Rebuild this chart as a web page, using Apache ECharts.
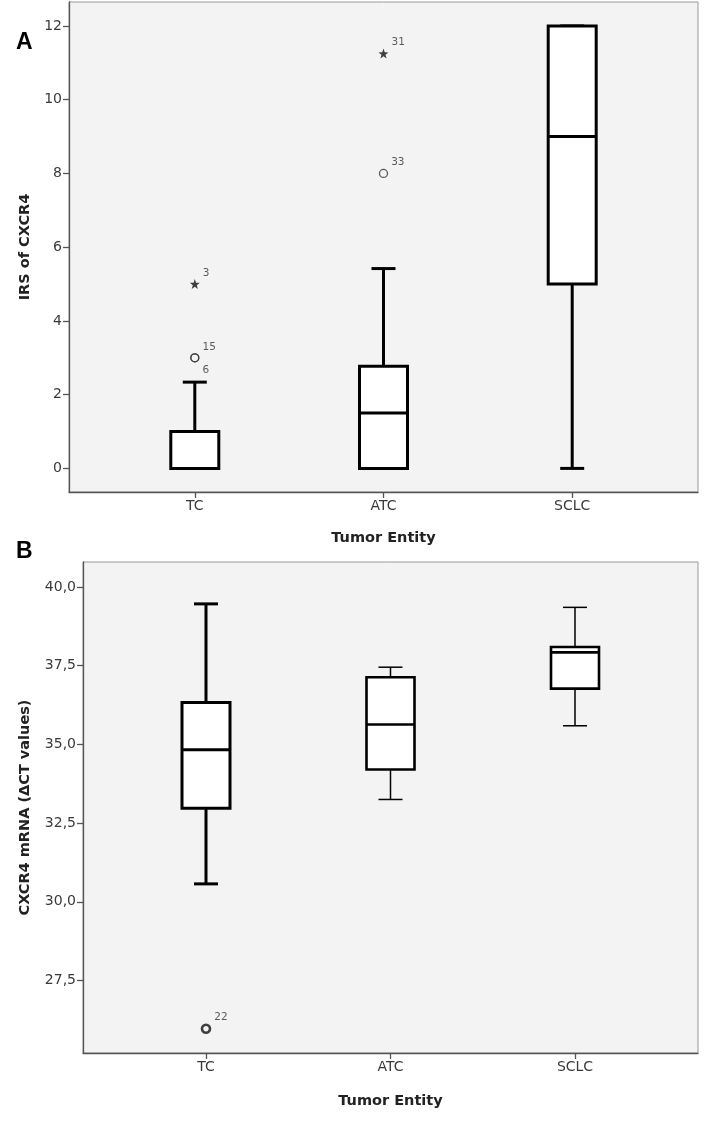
<!DOCTYPE html>
<html>
<head>
<meta charset="utf-8">
<script src="https://cdn.jsdelivr.net/npm/echarts@6/dist/echarts.min.js"></script>
<style>
html,body{margin:0;padding:0;background:#fff;}
#c{width:705px;height:1122px;}
</style>
</head>
<body>
<div id="c"></div>
<script>
// ---------- DATA ----------
const categories = ['TC', 'ATC', 'SCLC'];
const yTicksA = [0, 2, 4, 6, 8, 10, 12];
const yTicksB = [27.5, 30, 32.5, 35, 37.5, 40];
// [lower whisker, Q1, median, Q3, upper whisker]
const boxA = [
  [0, 0, 0, 1.0, 2.34],
  [0, 0, 1.5, 2.77, 5.42],
  [0, 5, 9, 12, 12]
];
const boxB = [
  [30.57, 32.97, 34.83, 36.33, 39.46],
  [33.25, 34.2, 35.63, 37.13, 37.45],
  [35.59, 36.77, 37.92, 38.09, 39.35]
];
// [category, value, case id]
const extremesA = [['TC', 5.0, '3'], ['ATC', 11.25, '31']];
const outliersA = [['TC', 3.0, '15'], ['TC', 3.0, '6'], ['ATC', 8.0, '33']];
const outliersB = [['TC', 25.97, '22']];

// ---------- STYLE ----------
const FONT = 'DejaVu Sans';
const whiskerWA = [3, 3, 3];
const whiskerWB = [3, 1.5, 1.5];
const boxLineA = [3, 3, 3];
const boxLineB = [3, 2.6, 2.6];
const labelOffsets = { '6': [1, 12] };
const STAR = 'path://M0,-10 L2.35,-3.24 9.51,-3.09 3.8,1.24 5.88,8.09 0,4 -5.88,8.09 -3.8,1.24 -9.51,-3.09 -2.35,-3.24Z';

const chart = echarts.init(document.getElementById('c'), null, { renderer: 'canvas' });

function makeRender(whiskerW, boxW) {
  return function (params, api) {
    const i = params.dataIndex;
    const x = api.value(0);
    const lo = api.coord([x, api.value(1)]);
    const q1 = api.coord([x, api.value(2)]);
    const md = api.coord([x, api.value(3)]);
    const q3 = api.coord([x, api.value(4)]);
    const hi = api.coord([x, api.value(5)]);
    const cx = lo[0];
    const hb = 24, hc = 12;
    const ws = { stroke: '#000', lineWidth: whiskerW[i] };
    const bs = { stroke: '#000', lineWidth: boxW[i] };
    return {
      type: 'group',
      children: [
        { type: 'line', shape: { x1: cx, y1: hi[1], x2: cx, y2: q3[1] }, style: ws },
        { type: 'line', shape: { x1: cx, y1: q1[1], x2: cx, y2: lo[1] }, style: ws },
        { type: 'line', shape: { x1: cx - hc, y1: hi[1], x2: cx + hc, y2: hi[1] }, style: ws },
        { type: 'line', shape: { x1: cx - hc, y1: lo[1], x2: cx + hc, y2: lo[1] }, style: ws },
        { type: 'rect', shape: { x: cx - hb, y: q3[1], width: 2 * hb, height: q1[1] - q3[1] },
          style: { fill: '#fff', stroke: '#000', lineWidth: boxW[i] } },
        { type: 'line', shape: { x1: cx - hb, y1: md[1], x2: cx + hb, y2: md[1] }, style: bs }
      ]
    };
  };
}

function pts(arr) {
  return arr.map(d => ({
    value: [categories.indexOf(d[0]) + 1, d[1]],
    label: { formatter: d[2], offset: labelOffsets[d[2]] || [1, -11] }
  }));
}

const ptLabel = {
  show: true, position: 'right', distance: 2,
  fontFamily: FONT, fontSize: 10.5, color: '#333', letterSpacing: 0.8
};

function xAxis(gi, gap) {
  return {
    gridIndex: gi, type: 'value', min: 1 / 3, max: 11 / 3,
    name: 'Tumor Entity', nameLocation: 'middle', nameGap: gap,
    nameTextStyle: { fontFamily: FONT, fontSize: 14.5, fontWeight: 'bold', color: '#222' },
    axisLine: { show: true, onZero: false, lineStyle: { color: '#555', width: 1.3 } },
    axisTick: { show: true, inside: false, length: 6, lineStyle: { color: '#555', width: 1.3 }, customValues: [1, 2, 3] },
    axisLabel: { customValues: [1, 2, 3], formatter: v => categories[Math.round(v) - 1],
      fontFamily: FONT, fontSize: 14, color: '#3a3a3a', margin: 7 },
    splitLine: { show: false }
  };
}

function yAxis(gi, min, max, ticks, name, gap, fmt) {
  return {
    gridIndex: gi, type: 'value', min: min, max: max,
    name: name, nameLocation: 'middle', nameGap: gap,
    nameTextStyle: { fontFamily: FONT, fontSize: 14.5, fontWeight: 'bold', color: '#222' },
    axisLine: { show: true, onZero: false, lineStyle: { color: '#555', width: 1.3 } },
    axisTick: { show: true, inside: false, length: 6, lineStyle: { color: '#555', width: 1.3 }, customValues: ticks },
    axisLabel: { customValues: ticks, formatter: fmt, fontFamily: FONT, fontSize: 14, color: '#3a3a3a', margin: 7 },
    splitLine: { show: false }
  };
}

const option = {
  backgroundColor: '#fff',
  animation: false,
  grid: [
    { left: 69, top: 2, width: 629, height: 490, show: true, backgroundColor: '#f3f3f3',
      borderColor: '#999', borderWidth: 1, containLabel: false, outerBoundsMode: 'none' },
    { left: 83, top: 562, width: 615, height: 491, show: true, backgroundColor: '#f3f3f3',
      borderColor: '#999', borderWidth: 1, containLabel: false, outerBoundsMode: 'none' }
  ],
  xAxis: [xAxis(0, 39), xAxis(1, 41)],
  yAxis: [
    yAxis(0, -0.64, 12.65, yTicksA, 'IRS of CXCR4', 36, v => String(v)),
    yAxis(1, 25.2, 40.79, yTicksB, 'CXCR4 mRNA (ΔCT values)', 50, v => v.toFixed(1).replace('.', ','))
  ],
  graphic: [
    { type: 'text', left: 16, top: 31, style: { text: 'A', font: 'bold 23px "Liberation Sans"', fill: '#000' } },
    { type: 'text', left: 16, top: 540, style: { text: 'B', font: 'bold 23px "Liberation Sans"', fill: '#000' } }
  ],
  series: [
    { type: 'custom', xAxisIndex: 0, yAxisIndex: 0, renderItem: makeRender(whiskerWA, boxLineA),
      data: boxA.map((b, i) => [i + 1].concat(b)), z: 2 },
    { type: 'custom', xAxisIndex: 1, yAxisIndex: 1, renderItem: makeRender(whiskerWB, boxLineB),
      data: boxB.map((b, i) => [i + 1].concat(b)), z: 2 },
    { type: 'scatter', xAxisIndex: 0, yAxisIndex: 0, symbol: STAR, symbolSize: 10,
      itemStyle: { color: '#111' }, label: ptLabel, data: pts(extremesA), z: 3 },
    { type: 'scatter', xAxisIndex: 0, yAxisIndex: 0, symbol: 'circle', symbolSize: 8,
      itemStyle: { color: 'rgba(0,0,0,0)', borderColor: '#333', borderWidth: 1.3 },
      label: ptLabel, data: pts(outliersA), z: 3 },
    { type: 'scatter', xAxisIndex: 1, yAxisIndex: 1, symbol: 'circle', symbolSize: 8,
      itemStyle: { color: 'rgba(0,0,0,0)', borderColor: '#111', borderWidth: 2.6 },
      label: ptLabel, data: pts(outliersB), z: 3 }
  ]
};
chart.setOption(option);
</script>
</body>
</html>
